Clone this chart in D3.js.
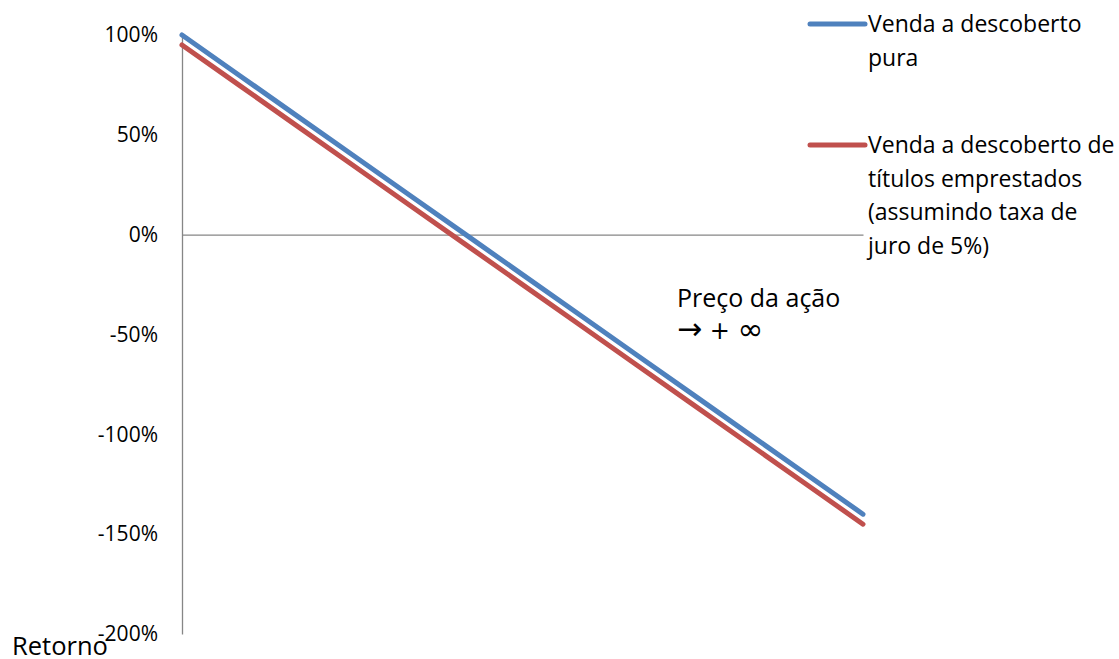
<!DOCTYPE html>
<html>
<head>
<meta charset="utf-8">
<script src="https://cdn.jsdelivr.net/npm/d3@7/dist/d3.min.js"></script>
<style>
  html, body { margin: 0; padding: 0; background: #fff; }
  svg { display: block; font-family: "Open Sans", sans-serif; }
</style>
</head>
<body>
<svg id="chart" width="1119" height="659"></svg>
<script>
// Share price relative to the price at the time of the short sale
const prices = ["0", "0.2", "0.4", "0.6", "0.8", "1.0", "1.2", "1.4", "1.6", "1.8", "2.0", "2.2", "2.4"];
// Return of a plain short sale (%)
const shortPure = [100, 80, 60, 40, 20, 0, -20, -40, -60, -80, -100, -120, -140];
// Return of a short sale of borrowed shares with a 5% fee (%)
const shortBorrowed = [95, 75, 55, 35, 15, -5, -25, -45, -65, -85, -105, -125, -145];
const yTicks = [100, 50, 0, -50, -100, -150, -200];

const seriesNames = [
  ["Venda a descoberto", "pura"],
  ["Venda a descoberto de", "títulos emprestados", "(assumindo taxa de", "juro de 5%)"]
];
const colors = ["#4F81BD", "#C0504D"];

const svg = d3.select("#chart");
const x = d3.scalePoint().domain(prices).range([182, 863]);
const y = d3.scaleLinear().domain([-200, 100]).range([634, 35]);

// Vertical axis
const yAxis = svg.append("g")
  .attr("transform", "translate(182,0)")
  .call(d3.axisLeft(y).tickValues(yTicks).tickSize(0).tickPadding(24)
    .tickFormat(d => d + "%"));
yAxis.attr("font-size", null).attr("font-family", null);
yAxis.select(".domain").attr("stroke", "#868686").attr("stroke-width", 1.3);
yAxis.selectAll("text").style("font-size", "21px").attr("fill", "#000")
  .style("font-family", "Open Sans");

// Horizontal axis through zero
const xAxis = svg.append("g")
  .attr("transform", `translate(0,${y(0)})`)
  .call(d3.axisBottom(x).tickSize(0).tickFormat(""));
xAxis.select(".domain").attr("stroke", "#868686").attr("stroke-width", 1.3);

const line = d3.line().x((d, i) => x(prices[i])).y(d => y(d));

[shortPure, shortBorrowed].forEach((vals, k) => {
  svg.append("path")
    .datum(vals)
    .attr("d", line)
    .attr("fill", "none")
    .attr("stroke", colors[k])
    .attr("stroke-width", 5)
    .attr("stroke-linecap", "round");
});

// Axis titles
svg.append("text").attr("x", 677).attr("y", 307)
  .style("font-size", "25px").text("Preço da ação");
const arrow = svg.append("text").attr("x", 677).attr("y", 339)
  .style("font-family", "DejaVu Sans");
arrow.append("tspan").style("font-size", "30px").text("→");
arrow.append("tspan").style("font-size", "24px").text(" + ");
arrow.append("tspan").style("font-size", "31px").attr("dy", 1).text("∞");
svg.append("text").attr("x", 12).attr("y", 655)
  .style("font-size", "25.5px").text("Retorno");

// Legend
const legendY = [24, 145];
seriesNames.forEach((lines, k) => {
  const g = svg.append("g");
  g.append("line")
    .attr("x1", 810).attr("x2", 865)
    .attr("y1", legendY[k]).attr("y2", legendY[k])
    .attr("stroke", colors[k]).attr("stroke-width", 5)
    .attr("stroke-linecap", "round");
  const t = g.append("text").attr("x", 868).attr("y", legendY[k] + 8)
    .style("font-size", "23px");
  lines.forEach((s, i) => {
    t.append("tspan").attr("x", 868).attr("dy", i === 0 ? 0 : 33.5).text(s);
  });
});
</script>
</body>
</html>
